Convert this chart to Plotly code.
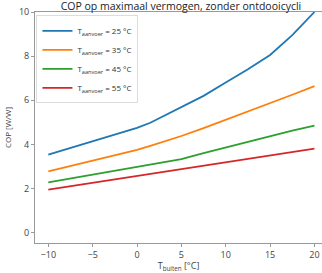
import plotly.graph_objects as go

t_buiten = [-10, -5, 0, 1.5, 5, 7.5, 10, 12.5, 15, 17.5, 20]
cop_25 = [3.54, 4.13, 4.75, 4.98, 5.68, 6.2, 6.8, 7.4, 8.05, 8.95, 10.0]
cop_35 = [2.78, 3.25, 3.75, 3.93, 4.38, 4.74, 5.11, 5.49, 5.87, 6.25, 6.64]
cop_45 = [2.28, 2.64, 3.0, 3.1, 3.33, 3.6, 3.86, 4.12, 4.38, 4.62, 4.85]
cop_55 = [1.95, 2.26, 2.57, 2.66, 2.88, 3.04, 3.19, 3.35, 3.5, 3.66, 3.81]
labels = ["T<sub>aanvoer</sub> = 25 °C", "T<sub>aanvoer</sub> = 35 °C",
          "T<sub>aanvoer</sub> = 45 °C", "T<sub>aanvoer</sub> = 55 °C"]
colors = ["#1f77b4", "#ff7f0e", "#2ca02c", "#d62728"]
x_ticks = [-10, -5, 0, 5, 10, 15, 20]
y_ticks = [0, 2, 4, 6, 8, 10]

fig = go.Figure()
for ys, lab, c in zip([cop_25, cop_35, cop_45, cop_55], labels, colors):
    fig.add_trace(go.Scatter(x=t_buiten, y=ys, mode="lines", name=lab,
                             line=dict(color=c, width=1.8), cliponaxis=True))

font = "Open Sans"
axis_common = dict(showgrid=False, zeroline=False, showline=True, linecolor="#999",
                   linewidth=1, ticks="outside", ticklen=3, tickcolor="#999",
                   automargin=False,
                   tickfont=dict(family=font, size=9, color="#444"))
fig.update_layout(
    width=322, height=273, autosize=False,
    margin=dict(l=35, r=0, t=12, b=30, autoexpand=False),
    paper_bgcolor="white", plot_bgcolor="white",
    title=dict(text="COP op maximaal vermogen, zonder ontdooicycli", x=181/322, xref="container",
               xanchor="center", y=1 - 6.5/273, yanchor="middle", automargin=False,
               font=dict(family=font, size=10.5, color="#222")),
    xaxis=dict(range=[-11.5, 20.85], tickvals=x_ticks, mirror=True,
               title=dict(text="T<sub>buiten</sub> [°C]", standoff=2,
                          font=dict(family=font, size=9, color="#444")),
               **axis_common),
    yaxis=dict(range=[-0.47, 10], tickvals=y_ticks,
               title=dict(text="COP [W/W]", standoff=6,
                          font=dict(family=font, size=8, color="#444")),
               **axis_common),
    legend=dict(x=0.005, y=0.985, xanchor="left", yanchor="top",
                bgcolor="rgba(255,255,255,0.9)", bordercolor="#ddd", borderwidth=1,
                font=dict(family=font, size=8, color="#333"),
                tracegroupgap=0, itemwidth=30),
    showlegend=True,
)
fig.write_html("out.html", config={"displayModeBar": False, "staticPlot": True},
               post_script="document.body.style.margin='0';document.body.style.overflow='hidden';")
